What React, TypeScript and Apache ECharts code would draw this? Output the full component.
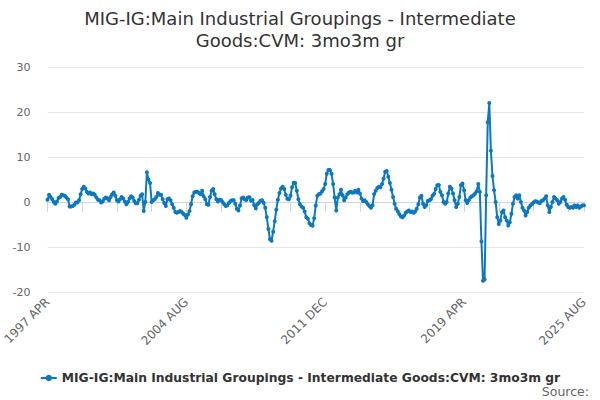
import React, { useEffect, useRef } from "react";
import * as echarts from "echarts";

const MONTHS = ["JAN", "FEB", "MAR", "APR", "MAY", "JUN", "JUL", "AUG", "SEP", "OCT", "NOV", "DEC"];
const START_YEAR = 1997;
const START_MONTH = 3; // APR
const COUNT = 341;

const v1997_2001 = [
  0.5, 1.6, 1.1, 0.6, 0.0, -0.4, 0.1, 0.9, 1.1, 1.6, 1.5, 1.4,
  1.0, 0.6, -1.0, -1.0, -0.9, -0.6, -0.1, -0.1, 0.4, 1.7, 2.9, 3.4,
  3.0, 2.2, 1.9, 2.1, 1.7, 1.9, 1.6, 1.0, 0.5, 0.4, -0.1, 0.1,
  0.7, 1.0, 0.8, 0.4, 1.1, 1.7, 2.1, 1.4, 0.4, 0.1, 0.6, 1.1,
  0.8, 0.1, -0.5, 0.0, 0.8, 1.3, 1.0, 0.2, -0.3, -0.3, 0.5, 1.4,
];
const v2002_2006 = [
  1.7, -2.0, 0.0, 6.6, 5.0, 4.2, 0.0, 0.4, 0.6, 1.1, 2.0, 1.6,
  1.6, 0.6, -0.2, -0.9, 0.6, 0.8, 0.4, -0.5, -1.3, -2.2, -2.4, -2.2,
  -2.0, -2.2, -2.6, -2.9, -3.5, -2.8, -2.0, -0.5, 1.3, 2.1, 2.3, 2.3,
  2.0, 1.7, 2.5, 1.3, 0.6, -0.5, -0.6, 1.1, 2.5, 2.9, 1.7, 0.6,
  0.1, 0.5, 0.45, 0.0, -0.5, -0.9, -0.7, -0.2, 0.2, 0.4, 0.4, -0.4,
];
const v2007_2011 = [
  -1.5, -1.9, -0.8, 0.8, 1.0, 0.6, 0.45, 1.0, 1.05, 0.3, 0.45, -0.7,
  -1.4, -0.5, -0.15, 0.3, 0.4, -0.15, -1.3, -3.4, -6.0, -8.3, -8.6, -6.6,
  -4.3, -1.7, 0.5, 2.0, 3.0, 3.4, 2.9, 1.6, 0.7, 0.6, 1.4, 3.3,
  4.3, 4.2, 2.5, 0.6, -0.5, -1.0, -1.3, -2.1, -3.4, -3.7, -4.7, -5.1,
  -5.3, -3.6, -0.8, 1.4, 1.75, 1.9, 2.4, 2.9, 4.0, 6.3, 7.1, 7.1,
];
const v2012_2016 = [
  6.3, 4.0, 1.0, -1.9, 1.0, 1.75, 2.7, 1.5, 0.4, 1.0, 1.75, 2.1,
  2.3, 2.1, 2.1, 2.5, 2.1, 2.7, 1.9, 0.75, 0.2, 0.4, 0.0, -0.5,
  -0.9, -1.3, -0.7, 1.75, 2.5, 3.1, 3.4, 3.3, 4.0, 5.2, 6.7, 6.9,
  5.6, 4.2, 2.7, 1.1, -0.4, -1.5, -2.1, -2.7, -3.2, -3.4, -3.0, -2.4,
  -2.1, -1.9, -2.2, -2.1, -2.4, -2.1, -1.5, -0.5, 1.0, 1.4, -0.4, -1.1,
];
const v2017_2021 = [
  -0.7, 0.2, 0.4, 0.6, 1.4, 1.8, 2.9, 3.7, 3.8, 2.2, 1.5, 0.0,
  -0.4, 0.0, 1.9, 3.4, 3.0, 1.9, 0.4, -1.1, -0.4, 1.1, 3.75, 4.1,
  2.6, 0.4, -0.2, 0.4, 1.0, 1.3, 1.5, 1.9, 2.4, 4.0, 2.25, -8.8,
  -17.5, -17.2, 1.5, 17.7, 22.0, 11.4, 5.8, 2.6, 0.0, -3.4, -4.9, -4.1,
  -2.25, -1.9, -3.4, -4.1, -5.2, -4.5, -2.6, -0.4, 1.1, 1.5, 0.75, 1.5,
];
const v2022_2025 = [
  0.0, -1.3, -1.9, -3.0, -2.25, -1.3, -0.8, -0.5, -0.1, 0.15, 0.1, -0.1,
  -0.2, 0.2, 0.4, 0.75, 1.3, -0.75, -2.25, -1.1, 0.0, 1.1, 0.75, 0.4,
  -0.4, 0.0, 0.75, 1.1, 0.5, -0.6, -1.1, -1.3, -1.1, -1.3, -0.75, -1.1,
  -0.75, -1.3, -1.0, -0.75, -0.75,
];

const values = [
  ...v1997_2001,
  ...v2002_2006,
  ...v2007_2011,
  ...v2012_2016,
  ...v2017_2021,
  ...v2022_2025,
];

const categories: string[] = [];
for (let i = 0; i < COUNT; i++) {
  const m = START_MONTH + i;
  categories.push(`${START_YEAR + Math.floor(m / 12)} ${MONTHS[m % 12]}`);
}

const SERIES_NAME = "MIG-IG:Main Industrial Groupings - Intermediate Goods:CVM: 3mo3m gr";
const TITLE = "MIG-IG:Main Industrial Groupings - Intermediate\nGoods:CVM: 3mo3m gr";
const FONT = "'DejaVu Sans', sans-serif";
const LINE_COLOR = "#0b78c0";

export default function App() {
  const ref = useRef<HTMLDivElement>(null);
  useEffect(() => {
    if (!ref.current) return;
    document.body.style.margin = "0";
    const chart = echarts.init(ref.current, undefined, { renderer: "svg" });
    const last = categories.length - 1;
    chart.setOption({
      animation: false,
      textStyle: { fontFamily: FONT },
      title: {
        text: TITLE,
        left: "center",
        top: 2,
        textStyle: {
          fontFamily: FONT,
          fontSize: 18,
          fontWeight: "normal",
          color: "#333333",
          lineHeight: 22,
        },
      },
      legend: {
        top: 367,
        left: "center",
        itemWidth: 16,
        itemHeight: 8,
        itemGap: 10,
        textStyle: { fontFamily: FONT, fontSize: 12.3, fontWeight: "bold", color: "#333333" },
        data: [SERIES_NAME],
      },
      grid: { left: 43, right: 16, top: 67, bottom: 108, containLabel: false },
      xAxis: {
        type: "category",
        data: categories,
        boundaryGap: false,
        axisLine: { lineStyle: { color: "#ccd6eb" } },
        axisTick: {
          show: true,
          length: 10,
          lineStyle: { color: "#ccd6eb" },
          interval: (idx: number) => idx % 22 === 0 || idx === last,
        },
        axisLabel: {
          rotate: 45,
          fontSize: 12,
          color: "#666666",
          fontFamily: FONT,
          margin: 8,
          interval: (idx: number) => idx % 88 === 0 || idx === last,
        },
        splitLine: { show: false },
      },
      yAxis: {
        type: "value",
        min: -20,
        max: 30,
        interval: 10,
        axisLine: { show: false },
        axisTick: { show: false },
        axisLabel: { fontSize: 11, color: "#666666", fontFamily: FONT, margin: 17 },
        splitLine: { lineStyle: { color: "#e6e6e6" } },
      },
      series: [
        {
          name: SERIES_NAME,
          type: "line",
          data: values,
          color: LINE_COLOR,
          lineStyle: { width: 2, color: LINE_COLOR },
          symbol: "circle",
          symbolSize: 4,
          showAllSymbol: true,
          itemStyle: { color: LINE_COLOR },
        },
      ],
      graphic: [
        {
          type: "text",
          right: 11,
          top: 385,
          style: { text: "Source:", fontSize: 12.5, fill: "#666666", fontFamily: FONT },
        },
      ],
    });
    return () => chart.dispose();
  }, []);
  return <div ref={ref} style={{ width: 600, height: 400 }} />;
}
